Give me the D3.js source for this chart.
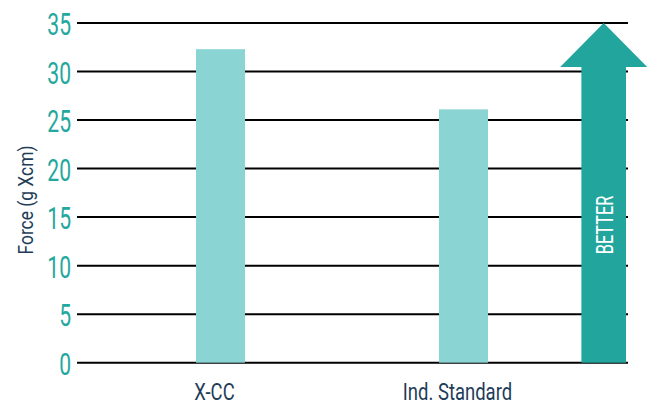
<!DOCTYPE html>
<html>
<head>
<meta charset="utf-8">
<script src="https://cdn.jsdelivr.net/npm/d3@7"></script>
<style>
  html, body { margin: 0; padding: 0; background: #fff; }
  svg { display: block; }
  text { font-family: Roboto, "Noto Sans", sans-serif; }
</style>
</head>
<body>
<div id="chart"></div>
<script>
// chart data
const categories = ["X-CC", "Ind. Standard"];
const forceValues = [32.3, 26.1];
const yTicks = [0, 5, 10, 15, 20, 25, 30, 35];
const yTitle = "Force (g Xcm)";
const arrowLabel = "BETTER";

const width = 654, height = 405;
const teal = "#23a89e";
const barColor = "#8ad4d4";
const arrowColor = "#21a59d";
const navy = "#1d3d58";

const svg = d3.select("#chart").append("svg")
    .attr("width", width)
    .attr("height", height);

const y = d3.scaleLinear().domain([0, 35]).range([362.7, 23]);
const x = d3.scalePoint().domain(categories).range([220.5, 463.5]);
const gridLeft = 77, gridRight = 628;
const barW = 49;

// gridlines
svg.append("g")
    .selectAll("line")
    .data(yTicks)
    .join("line")
    .attr("x1", gridLeft)
    .attr("x2", gridRight)
    .attr("y1", d => y(d))
    .attr("y2", d => y(d))
    .attr("stroke", "#000")
    .attr("stroke-width", 2);

// y axis labels (condensed look via scaleX)
const sx = 0.66;
const yAxis = svg.append("g")
    .attr("transform", `translate(${gridLeft},0)`)
    .call(d3.axisLeft(y).tickValues(yTicks).tickSize(0).tickPadding(6));
yAxis.select(".domain").remove();
yAxis.selectAll("text")
    .attr("fill", teal)
    .attr("font-size", 32)
    .attr("font-family", "Roboto, sans-serif")
    .attr("x", -6 / sx)
    .attr("dy", "0.36em")
    .attr("transform", `scale(${sx},1)`);

// bars
svg.append("g")
    .selectAll("rect")
    .data(categories)
    .join("rect")
    .attr("x", d => x(d) - barW / 2)
    .attr("width", barW)
    .attr("y", (d, i) => y(forceValues[i]))
    .attr("height", (d, i) => y(0) - y(forceValues[i]))
    .attr("fill", barColor);

// x labels, sit a bit left of the bar centres
svg.append("g")
    .selectAll("g")
    .data(categories)
    .join("g")
    .attr("transform", d => `translate(${x(d) - 6},399.5) scale(0.77,1)`)
    .append("text")
    .attr("text-anchor", "middle")
    .attr("font-size", 24)
    .attr("fill", navy)
    .text(d => d);

// y title
svg.append("g")
    .attr("transform", "translate(32.5,200) rotate(-90) scale(0.83,1)")
    .append("text")
    .attr("text-anchor", "middle")
    .attr("font-size", 21)
    .attr("fill", navy)
    .text(yTitle);

// "better" arrow
const ax = 603.7, shaftHalf = 22.3, headHalf = 43.5, headH = 44;
const tipY = y(35), baseY = y(0);
const arrowPath = d3.path();
arrowPath.moveTo(ax, tipY);
arrowPath.lineTo(ax + headHalf, tipY + headH);
arrowPath.lineTo(ax + shaftHalf, tipY + headH);
arrowPath.lineTo(ax + shaftHalf, baseY);
arrowPath.lineTo(ax - shaftHalf, baseY);
arrowPath.lineTo(ax - shaftHalf, tipY + headH);
arrowPath.lineTo(ax - headHalf, tipY + headH);
arrowPath.closePath();
svg.append("path")
    .attr("d", arrowPath.toString())
    .attr("fill", arrowColor);

svg.append("g")
    .attr("transform", `translate(${ax + 9},225) rotate(-90) scale(0.68,1)`)
    .append("text")
    .attr("text-anchor", "middle")
    .attr("font-size", 24)
    .attr("fill", "#fff")
    .text(arrowLabel);
</script>
</body>
</html>
